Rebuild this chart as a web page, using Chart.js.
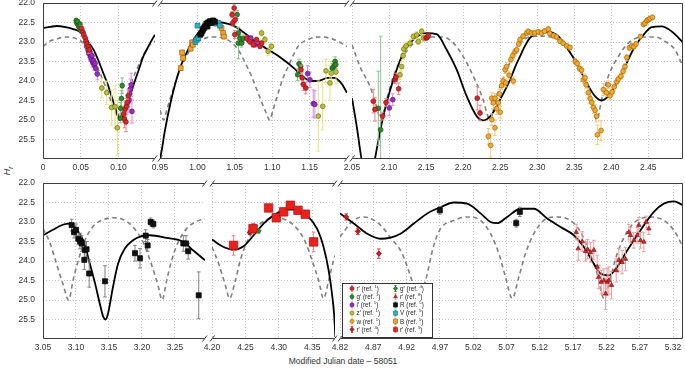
<!DOCTYPE html>
<html>
<head>
<meta charset="utf-8">
<script src="https://cdn.jsdelivr.net/npm/chart.js@4.4.0/dist/chart.umd.min.js"></script>
<style>
  body { margin: 0; width: 685px; height: 370px; position: relative; overflow: hidden; background: #fff;
         font-family: "Liberation Sans", Arial, sans-serif; }
  canvas { position: absolute; }
  #ytitle { position: absolute; left: -4px; top: 165px; width: 22px; height: 12px; line-height: 12px;
            text-align: center; transform: rotate(-90deg); font-size: 9px; font-style: italic; color: #333; }
  #ytitle sub { font-size: 6.5px; }
  #xtitle { position: absolute; left: 0; top: 356px; width: 686px; text-align: center; font-size: 8.5px; color: #333; }
</style>
</head>
<body>
<div id="ytitle">H<sub>r</sub></div>
<div id="xtitle">Modified Julian date – 58051</div>
<script>
// ---- axis ticks ----
var yTicks = [22.0, 22.5, 23.0, 23.5, 24.0, 24.5, 25.0, 25.5];
var t1Ticks = [0, 0.05, 0.10];             var t1Labels = ["0", "0.05", "0.10"];
var t2Ticks = [0.95, 1.00, 1.05, 1.10, 1.15]; var t2Labels = ["0.95", "1.00", "1.05", "1.10", "1.15"];
var t3Ticks = [2.05, 2.10, 2.15, 2.20, 2.25, 2.30, 2.35, 2.40, 2.45];
var t3Labels = ["2.05", "2.10", "2.15", "2.20", "2.25", "2.30", "2.35", "2.40", "2.45"];
var b1Ticks = [3.05, 3.10, 3.15, 3.20, 3.25]; var b1Labels = ["3.05", "3.10", "3.15", "3.20", "3.25"];
var b2Ticks = [4.20, 4.25, 4.30, 4.35];       var b2Labels = ["4.20", "4.25", "4.30", "4.35"];
var b3Ticks = [4.82, 4.87, 4.92, 4.97, 5.02, 5.07, 5.12, 5.17, 5.22, 5.27, 5.32];
var b3Labels = ["4.82", "4.87", "4.92", "4.97", "5.02", "5.07", "5.12", "5.17", "5.22", "5.27", "5.32"];

// ---- model curves [x, H] ----
var t1Solid = [[0,22.64],[0.01,22.61],[0.018,22.59],[0.03,22.62],[0.04,22.67],[0.047,22.72],[0.053,22.81],[0.06,23.0],[0.067,23.2],[0.074,23.5],[0.08,23.8],[0.086,24.1],[0.091,24.4],[0.095,24.65],[0.098,24.82],[0.1,24.93],[0.102,25.0],[0.105,24.92],[0.109,24.75],[0.115,24.4],[0.12,24.1],[0.124,23.88],[0.128,23.65],[0.133,23.37],[0.138,23.18],[0.142,23.03],[0.1485,22.81]];
var t1Dashed = [[0,23.11],[0.01,22.97],[0.018,22.92],[0.031,22.87],[0.0447,22.92],[0.0535,23.03],[0.0595,23.2],[0.068,23.5],[0.0774,23.88],[0.086,24.3],[0.095,24.74],[0.102,25.0],[0.106,24.75],[0.113,24.31],[0.12,23.9],[0.126,23.63],[0.133,23.35],[0.14,23.11],[0.1485,22.98]];
var t2Solid = [[0.95,26.0],[0.953,25.7],[0.956,25.33],[0.965,24.48],[0.976,23.71],[0.9875,23.2],[1.001,22.77],[1.014,22.58],[1.025,22.5],[1.032,22.5],[1.04,22.53],[1.05,22.6],[1.063,22.77],[1.077,22.98],[1.095,23.2],[1.112,23.41],[1.129,23.67],[1.143,23.92],[1.152,24.0],[1.161,24.0],[1.174,23.92],[1.183,23.92],[1.192,24.05],[1.2,24.3]];
var t2Dashed = [[0.95,24.75],[0.955,25.0],[0.959,24.75],[0.966,24.31],[0.973,23.9],[0.979,23.63],[0.986,23.35],[0.993,23.11],[1.005,22.95],[1.015,22.88],[1.025,22.87],[1.035,22.9],[1.045,23.0],[1.0545,23.2],[1.063,23.5],[1.0724,23.88],[1.081,24.3],[1.0902,24.74],[1.097,25.0],[1.101,24.75],[1.108,24.31],[1.115,23.9],[1.1214,23.63],[1.128,23.35],[1.1348,23.11],[1.1527,22.9],[1.166,22.87],[1.18,22.92],[1.19,23.0],[1.2,23.12]];
var t3Solid = [[2.05,24.44],[2.0567,25.2],[2.062,25.9],[2.068,26.5],[2.074,26.6],[2.078,26.35],[2.081,26.0],[2.0923,24.9],[2.1058,23.97],[2.1193,23.28],[2.1328,22.94],[2.1508,22.77],[2.1643,22.8],[2.1778,23.2],[2.1913,23.71],[2.2048,24.39],[2.2183,24.9],[2.2272,25.01],[2.2386,24.86],[2.2498,24.48],[2.2633,23.97],[2.27,23.65],[2.2768,23.37],[2.2835,23.1],[2.29,22.9],[2.297,22.8],[2.305,22.75],[2.315,22.74],[2.3285,22.85],[2.342,23.2],[2.3555,23.63],[2.3668,24.05],[2.378,24.39],[2.387,24.5],[2.396,24.39],[2.405,24.14],[2.4185,23.63],[2.432,23.11],[2.4455,22.77],[2.4546,22.62],[2.468,22.6],[2.4816,22.73],[2.4968,23.01]];
var t3Dashed = [[2.05,23.07],[2.0608,23.63],[2.0743,24.14],[2.0833,24.67],[2.089,25.0],[2.0968,24.48],[2.1058,23.88],[2.119,23.37],[2.137,22.98],[2.155,22.87],[2.173,22.87],[2.187,23.03],[2.2,23.37],[2.2138,23.88],[2.227,24.48],[2.232,24.82],[2.236,25.0],[2.2453,24.39],[2.2588,23.71],[2.2723,23.2],[2.2835,22.92],[2.3015,22.85],[2.324,22.9],[2.3375,23.11],[2.351,23.45],[2.3645,23.97],[2.3736,24.48],[2.378,24.86],[2.3803,25.0],[2.387,24.48],[2.396,23.88],[2.4095,23.37],[2.423,23.03],[2.441,22.87],[2.459,22.87],[2.4725,22.98],[2.486,23.2],[2.4968,23.63]];
var b1Solid = [[3.05,23.34],[3.065,23.2],[3.08,23.07],[3.09,23.04],[3.1,23.17],[3.111,23.47],[3.121,24.07],[3.129,24.58],[3.136,25.09],[3.1415,25.44],[3.145,25.5],[3.1485,25.35],[3.156,24.67],[3.1637,24.07],[3.174,23.68],[3.1864,23.47],[3.1992,23.36],[3.212,23.34],[3.2374,23.41],[3.2626,23.51],[3.2778,23.73],[3.2955,23.98]];
var b1Dashed = [[3.05,23.17],[3.06,23.51],[3.0705,24.07],[3.08,24.58],[3.089,25.0],[3.0955,24.5],[3.1035,23.98],[3.1136,23.47],[3.126,23.11],[3.1415,22.94],[3.1567,22.89],[3.172,22.94],[3.1864,23.13],[3.2015,23.51],[3.214,24.07],[3.2243,24.62],[3.2306,25.0],[3.2374,24.5],[3.245,23.98],[3.255,23.51],[3.2677,23.17],[3.283,22.98],[3.2955,22.92]];
var b2Solid = [[4.2,23.45],[4.2174,23.64],[4.2323,23.71],[4.2473,23.62],[4.2623,23.34],[4.2772,23.04],[4.2922,22.83],[4.3123,22.68],[4.327,22.68],[4.3422,22.83],[4.3572,23.17],[4.367,23.64],[4.3746,24.24],[4.3796,24.84],[4.3831,25.44],[4.3846,25.95]];
var b2Dashed = [[4.2,23.64],[4.21,24.07],[4.22,24.62],[4.2263,24.96],[4.235,24.5],[4.2424,23.98],[4.2524,23.51],[4.2648,23.17],[4.2798,22.96],[4.2973,22.89],[4.3123,22.96],[4.3272,23.17],[4.3397,23.51],[4.3497,23.98],[4.3596,24.5],[4.367,24.96],[4.3746,24.5],[4.382,23.98],[4.3846,23.85]];
var b3Solid = [[4.82,22.78],[4.8407,23.04],[4.8608,23.3],[4.8808,23.43],[4.8958,23.4],[4.9108,23.3],[4.9308,23.04],[4.951,22.78],[4.971,22.62],[4.9909,22.5],[5.011,22.53],[5.031,22.78],[5.046,23.0],[5.056,23.03],[5.071,22.87],[5.091,22.66],[5.111,22.66],[5.1311,22.91],[5.1511,23.13],[5.1711,23.34],[5.1861,23.64],[5.2011,24.07],[5.2111,24.32],[5.2236,24.37],[5.2362,24.15],[5.2512,23.73],[5.2712,23.21],[5.2912,22.74],[5.3062,22.53],[5.3212,22.47],[5.335,22.57]];
var b3Dashed = [[4.82,23.38],[4.84,22.96],[4.8557,22.87],[4.8808,23.08],[4.8958,23.4],[4.913,23.8],[4.928,24.5],[4.937,25.0],[4.9484,24.5],[4.9608,23.6],[4.971,23.17],[4.9909,22.96],[5.011,22.87],[5.031,22.96],[5.046,23.3],[5.0585,23.81],[5.0685,24.41],[5.0786,24.96],[5.0885,24.41],[5.0985,23.81],[5.111,23.3],[5.126,22.96],[5.1461,22.87],[5.166,22.96],[5.181,23.25],[5.1936,23.73],[5.2062,24.32],[5.2161,24.96],[5.2262,24.41],[5.2362,23.81],[5.2512,23.25],[5.2662,22.96],[5.2862,22.87],[5.3062,22.96],[5.3212,23.21],[5.335,23.64]];

// ---- photometry [x, H, error] ----
var t1_g1 = [[0.044,22.45,0.06],[0.045,22.52,0.06],[0.046,22.48,0.06],[0.047,22.58,0.06],[0.048,22.62,0.07],[0.049,22.55,0.06],[0.05,22.7,0.07],[0.1025,24.95,0.12],[0.103,24.7,0.15],[0.104,24.45,0.2],[0.105,24.12,0.2]];
var t1_r1 = [[0.051,22.65,0.06],[0.053,22.75,0.07],[0.054,22.82,0.07],[0.056,22.9,0.08],[0.057,22.98,0.08],[0.058,23.05,0.08],[0.06,23.12,0.08],[0.061,23.2,0.09],[0.107,24.85,0.2],[0.108,24.98,0.22],[0.109,24.72,0.2],[0.11,25.05,0.25],[0.111,24.65,0.2],[0.112,24.55,0.18],[0.113,24.38,0.15]];
var t1_i1 = [[0.058,23.12,0.08],[0.06,23.22,0.1],[0.061,23.3,0.1],[0.062,23.25,0.1],[0.063,23.38,0.1],[0.064,23.45,0.12],[0.065,23.35,0.1],[0.066,23.52,0.12],[0.067,23.48,0.12],[0.068,23.6,0.12],[0.069,23.55,0.12],[0.07,23.68,0.14],[0.072,23.82,0.15],[0.114,24.5,0.3],[0.115,24.32,0.25],[0.116,24.2,0.25],[0.117,24.1,0.3],[0.118,24.78,0.3]];
var t1_z1 = [[0.078,24.18,0.25],[0.0845,24.3,0.3],[0.091,24.68,0.45],[0.0955,24.66,0.55],[0.0986,25.2,0.7]];

var t2_B5 = [[0.9777,23.67,0.06],[0.9795,23.27,0.06],[0.9808,23.41,0.06],[0.991,23.17,0.06],[0.9929,23.01,0.06],[0.994,23.07,0.06],[1.0322,22.64,0.06],[1.0344,22.77,0.06],[1.0355,22.86,0.06]];
var t2_V5 = [[0.9974,23.0,0.06],[0.9987,22.94,0.06],[1.0001,22.58,0.05],[1.0014,22.9,0.06],[1.0255,22.53,0.05],[1.0277,22.51,0.05],[1.03,22.58,0.05]];
var t2_R5 = [[1.004,22.81,0.06],[1.0054,22.77,0.06],[1.0069,22.71,0.06],[1.0076,22.67,0.06],[1.009,22.64,0.06],[1.0099,22.6,0.06],[1.012,22.53,0.06],[1.0135,22.6,0.06],[1.0143,22.5,0.06],[1.0166,22.47,0.06],[1.0188,22.51,0.06],[1.021,22.45,0.06],[1.0233,22.48,0.06]];
var t2_r1 = [[1.0464,22.3,0.08],[1.0473,22.51,0.08],[1.0491,22.13,0.1],[1.05,22.81,0.1],[1.0505,22.43,0.08],[1.0657,22.9,0.06],[1.07,22.99,0.06],[1.0746,23.07,0.06],[1.079,22.94,0.06],[1.0836,23.11,0.06],[1.0858,23.03,0.06],[1.1385,23.71,0.12],[1.14,23.92,0.15],[1.1416,24.09,0.15],[1.145,24.18,0.15]];
var t2_g1 = [[1.0531,22.3,0.1],[1.0545,22.77,0.15],[1.0548,23.03,0.4],[1.0568,22.9,0.15],[1.059,23.03,0.1],[1.0612,22.92,0.1],[1.134,23.84,0.15],[1.1358,23.56,0.12],[1.138,23.62,0.12],[1.1804,23.67,0.12],[1.1826,23.62,0.12],[1.184,23.5,0.12],[1.185,23.58,0.1]];
var t2_i1 = [[1.0679,22.94,0.06],[1.0714,22.9,0.06],[1.0723,23.0,0.06],[1.0768,23.07,0.06],[1.0813,23.03,0.06],[1.1474,23.81,0.2],[1.1505,23.97,0.2],[1.1549,24.58,0.35],[1.157,24.6,0.35]];
var t2_z1 = [[1.0858,22.77,0.08],[1.0902,22.94,0.08],[1.0946,23.24,0.1],[1.099,23.11,0.1],[1.1616,24.9,0.9],[1.1675,24.65,0.6],[1.1719,23.74,0.3],[1.1772,24.05,0.45],[1.179,23.8,0.3],[1.1853,23.77,0.3]];

var t3_r1 = [[2.0788,24.52,0.3],[2.081,24.73,0.3],[2.0914,24.9,0.1],[2.0959,24.55,0.1],[2.108,23.97,0.1],[2.1095,23.9,0.1],[2.113,24.2,0.15],[2.1499,22.9,0.05],[2.1515,22.88,0.05],[2.153,22.84,0.05],[2.2191,24.44,0.3],[2.2228,24.82,0.2]];
var t3_g1 = [[2.0855,24.7,0.95],[2.0887,25.25,2.4]];
var t3_i1 = [[2.1003,24.69,0.2],[2.105,24.48,0.15]];
var t3_z1 = [[2.1148,23.84,0.12],[2.117,23.63,0.12],[2.119,23.35,0.1],[2.12,23.18,0.1],[2.123,23.1,0.1],[2.1283,23.03,0.1],[2.1328,22.86,0.08],[2.1373,22.82,0.08],[2.1396,22.99,0.08],[2.144,22.73,0.08],[2.1463,22.9,0.08]];
var t3_w1 = [[2.234,25.42,0.2],[2.2372,25.65,0.3],[2.2386,24.99,0.15],[2.2386,24.44,0.15],[2.2408,24.56,0.15],[2.243,25.2,0.2],[2.243,24.44,0.12],[2.2453,24.71,0.15],[2.2475,24.56,0.12],[2.2489,24.33,0.12],[2.25,24.8,0.15],[2.252,24.12,0.1],[2.254,24.0,0.1],[2.2566,23.71,0.1],[2.2575,24.05,0.1],[2.2588,23.63,0.1],[2.262,23.85,0.1],[2.2645,23.45,0.08],[2.267,23.35,0.08],[2.2678,24.0,0.1],[2.27,23.25,0.08],[2.2723,23.2,0.08],[2.275,23.05,0.06],[2.2768,22.94,0.06],[2.281,22.85,0.06],[2.2858,22.77,0.06],[2.288,22.73,0.06],[2.292,22.77,0.06],[2.2965,22.77,0.06],[2.3015,22.74,0.06],[2.306,22.77,0.06],[2.31,22.72,0.06],[2.315,22.67,0.06],[2.317,22.78,0.06],[2.322,22.84,0.06],[2.326,22.87,0.06],[2.3308,22.98,0.06],[2.335,23.03,0.06],[2.3398,23.1,0.06],[2.3443,23.14,0.06],[2.3513,23.5,0.08],[2.354,23.55,0.08],[2.357,23.68,0.08],[2.36,23.72,0.08],[2.3622,23.97,0.1],[2.3645,23.92,0.1],[2.366,24.1,0.1],[2.369,24.3,0.12],[2.3715,24.45,0.12],[2.3736,24.55,0.12],[2.376,24.68,0.15],[2.378,24.75,0.15],[2.3803,24.9,0.15],[2.3812,25.38,0.25],[2.3861,25.27,0.25],[2.3893,24.22,0.15],[2.3935,24.3,0.1],[2.396,24.1,0.1],[2.3983,24.38,0.1],[2.401,24.28,0.1],[2.404,24.15,0.1],[2.4075,24.02,0.08],[2.4095,23.95,0.08],[2.413,23.88,0.08],[2.416,23.75,0.08],[2.4185,23.63,0.08],[2.421,23.4,0.08],[2.4244,23.15,0.06],[2.4275,23.1,0.06],[2.4305,23.12,0.06],[2.4334,23.05,0.06],[2.4393,22.86,0.06],[2.4433,22.55,0.06],[2.4455,22.52,0.06],[2.448,22.45,0.06],[2.45,22.43,0.06],[2.4522,22.4,0.06],[2.4555,22.37,0.06]];

var b1_R5 = [[3.0934,23.08,0.15],[3.097,23.26,0.15],[3.1,23.2,0.15],[3.1035,23.43,0.15],[3.106,23.49,0.2],[3.1086,23.55,0.2],[3.1126,23.97,0.25],[3.1136,23.72,0.2],[3.116,23.7,0.2],[3.12,24.32,0.35],[3.1439,24.52,0.4],[3.1894,23.8,0.2],[3.197,23.93,0.25],[3.2056,23.35,0.15],[3.2086,23.6,0.15],[3.2131,23.0,0.1],[3.2172,23.05,0.1],[3.2626,23.55,0.2],[3.2667,23.55,0.2],[3.27,23.75,0.2],[3.286,24.88,0.6]];
var b2_r5 = [[4.2323,23.6,0.25],[4.2614,23.17,0.12],[4.2847,22.64,0.05],[4.2963,22.89,0.08],[4.3072,22.74,0.1],[4.3172,22.57,0.05],[4.3287,22.7,0.05],[4.3397,22.8,0.05],[4.3521,23.51,0.25]];
var b2_r4 = [[4.2563,23.27,0.05],[4.2623,23.1,0.05]];
var b2_g4 = [[4.2698,23.23,0.05],[4.316,22.55,0.04]];
var b3_r4 = [[4.8293,22.87,0.08],[4.8467,23.24,0.08],[4.8783,23.81,0.12]];
var b3_R5 = [[4.9699,22.7,0.1],[5.0846,23.03,0.1],[5.09,22.74,0.12]];
var b3_r8 = [[5.1747,23.26,0.2],[5.1777,23.68,0.3],[5.1837,23.5,0.25],[5.1887,23.75,0.25],[5.1917,23.7,0.25],[5.1962,23.78,0.25],[5.2011,23.72,0.25],[5.2062,24.15,0.3],[5.2086,24.41,0.3],[5.2122,24.54,0.3],[5.2161,24.5,0.3],[5.2187,24.84,0.4],[5.2212,24.54,0.35],[5.2237,24.5,0.35],[5.2277,24.62,0.35],[5.2347,24.24,0.3],[5.2387,23.98,0.3],[5.2437,24.03,0.3],[5.2487,23.95,0.3],[5.2537,23.26,0.2],[5.2562,23.34,0.2],[5.2612,23.47,0.2],[5.2662,23.34,0.2],[5.2687,23.08,0.2],[5.2712,23.47,0.2],[5.2762,23.51,0.25],[5.2797,23.0,0.15],[5.2837,23.17,0.15]];

// ---- legend ----
var legendKeys = ["r1", "g1", "i1", "z1", "w1", "r4", "g4", "r8", "R5", "V5", "B5", "r5"];
var legendBands = ["r\u2032", "g\u2032", "i\u2032", "z\u2032", "w", "r\u2032", "g\u2032", "r\u2032", "R", "V", "B", "r\u2032"];
var legendRefs = ["1", "1", "1", "1", "1", "4", "4", "8", "5", "5", "5", "5"];

var styles = {
  r1: { shape: "circle", r: 2.4, fill: "#d8262a", edge: "#8a1212", bar: "#ee8585" },
  g1: { shape: "circle", r: 2.4, fill: "#2b8a2b", edge: "#145214", bar: "#86c486" },
  i1: { shape: "circle", r: 2.4, fill: "#9b2cc0", edge: "#5e1175", bar: "#d98ae8" },
  z1: { shape: "circle", r: 2.4, fill: "#bcbc36", edge: "#6f6f18", bar: "#e6e678" },
  w1: { shape: "circle", r: 2.4, fill: "#f2a92e", edge: "#9b6510", bar: "#f7c870" },
  r4: { shape: "rectRot", r: 2.6, fill: "#c81e1e", edge: "#801010", bar: "#d84040" },
  g4: { shape: "rectRot", r: 2.6, fill: "#2b8a2b", edge: "#145214", bar: "#2b8a2b" },
  r8: { shape: "triangle", r: 2.6, fill: "#d42a2a", edge: "#8a1010", bar: "#f29c9c" },
  R5: { shape: "rect", r: 3.6, fill: "#111111", edge: "#000000", bar: "#808080" },
  V5: { shape: "rect", r: 3.4, fill: "#2fb2c2", edge: "#1a7080", bar: "#2fb2c2" },
  B5: { shape: "rect", r: 3.4, fill: "#f2a530", edge: "#a06010", bar: "#f2a530" },
  r5: { shape: "rect", r: 6.0, fill: "#e8211d", edge: "#b01010", bar: "#f08080" }
};

var panels = [
  { box: [43, 3, 155, 159], xr: [0, 0.1485], ticks: t1Ticks, labels: t1Labels, yLabels: true, edgeL: true, edgeR: false,
    solid: t1Solid, dashed: t1Dashed, pts: { r1: t1_r1, g1: t1_g1, i1: t1_i1, z1: t1_z1 } },
  { box: [160, 3, 347, 159], xr: [0.95, 1.2], ticks: t2Ticks, labels: t2Labels, yLabels: false, edgeL: false, edgeR: false,
    solid: t2Solid, dashed: t2Dashed, pts: { r1: t2_r1, g1: t2_g1, i1: t2_i1, z1: t2_z1, R5: t2_R5, V5: t2_V5, B5: t2_B5 } },
  { box: [352, 3, 683, 159], xr: [2.05, 2.4968], ticks: t3Ticks, labels: t3Labels, yLabels: false, edgeL: false, edgeR: true,
    solid: t3Solid, dashed: t3Dashed, pts: { r1: t3_r1, g1: t3_g1, i1: t3_i1, z1: t3_z1, w1: t3_w1 } },
  { box: [43, 183, 205, 339], xr: [3.05, 3.2955], ticks: b1Ticks, labels: b1Labels, yLabels: true, edgeL: true, edgeR: false,
    solid: b1Solid, dashed: b1Dashed, pts: { R5: b1_R5 } },
  { box: [212, 183, 335, 339], xr: [4.2, 4.3841], ticks: b2Ticks, labels: b2Labels, yLabels: false, edgeL: false, edgeR: false,
    solid: b2Solid, dashed: b2Dashed, pts: { r5: b2_r5, r4: b2_r4, g4: b2_g4 } },
  { box: [340, 183, 683, 339], xr: [4.82, 5.335], ticks: b3Ticks, labels: b3Labels, yLabels: false, edgeL: false, edgeR: true,
    solid: b3Solid, dashed: b3Dashed, pts: { r4: b3_r4, R5: b3_R5, r8: b3_r8 }, legend: true }
];

var tickFont = { family: "'Liberation Sans', Arial, sans-serif", size: 8.5 };

// error bars drawn right before each series' markers
var errorBars = {
  id: "errorBars",
  beforeDatasetDraw: function (chart, args) {
    var ds = chart.data.datasets[args.index];
    if (!ds.errs) return;
    var ctx = chart.ctx, a = chart.chartArea, xs = chart.scales.x, ys = chart.scales.y;
    ctx.save();
    ctx.beginPath(); ctx.rect(a.left, a.top, a.right - a.left, a.bottom - a.top); ctx.clip();
    ctx.strokeStyle = ds.barColor; ctx.lineWidth = 1;
    ctx.beginPath();
    ds.data.forEach(function (p, i) {
      var px = xs.getPixelForValue(p.x);
      var y1 = ys.getPixelForValue(p.y - ds.errs[i]), y2 = ys.getPixelForValue(p.y + ds.errs[i]);
      ctx.moveTo(px, y1); ctx.lineTo(px, y2);
      ctx.moveTo(px - 1.8, y1); ctx.lineTo(px + 1.8, y1);
      ctx.moveTo(px - 1.8, y2); ctx.lineTo(px + 1.8, y2);
    });
    ctx.stroke();
    ctx.restore();
  }
};

// frame with broken-axis marks
function framePlugin(p) {
  return {
    id: "frame",
    afterDatasetsDraw: function (chart) {
      var ctx = chart.ctx, a = chart.chartArea;
      var L = Math.round(a.left) + 0.5, R = Math.round(a.right) - 0.5, T = Math.round(a.top) + 0.5, B = Math.round(a.bottom) - 0.5;
      ctx.save();
      ctx.strokeStyle = "#3c3c3c"; ctx.lineWidth = 1;
      ctx.beginPath();
      ctx.moveTo(L, T); ctx.lineTo(R, T);
      ctx.moveTo(L, B); ctx.lineTo(R, B);
      if (p.edgeL) { ctx.moveTo(L, T); ctx.lineTo(L, B); }
      if (p.edgeR) { ctx.moveTo(R, T); ctx.lineTo(R, B); }
      ctx.stroke();
      ctx.beginPath();
      [T, B].forEach(function (y) {
        if (!p.edgeL) { ctx.moveTo(L - 2.5, y + 3); ctx.lineTo(L + 2, y - 3); }
        if (!p.edgeR) { ctx.moveTo(R - 2, y + 3); ctx.lineTo(R + 2.5, y - 3); }
      });
      ctx.stroke();
      ctx.restore();
    }
  };
}

function legendPlugin(offX, offY) {
  return {
    id: "legendBox",
    afterDraw: function (chart) {
      var ctx = chart.ctx;
      var bx = 342 - offX, by = 283 - offY, bw = 90, bh = 54;
      ctx.save();
      ctx.fillStyle = "#fff"; ctx.fillRect(bx, by, bw, bh);
      ctx.strokeStyle = "#333"; ctx.lineWidth = 1;
      ctx.strokeRect(bx + 0.5, by + 0.5, bw, bh);
      legendKeys.forEach(function (k, i) {
        var st = styles[k];
        var col = Math.floor(i / 6), row = i % 6;
        var mx = bx + 10 + col * 43.5, my = by + 5.5 + row * 8.2;
        ctx.strokeStyle = st.bar; ctx.lineWidth = 0.9;
        ctx.beginPath(); ctx.moveTo(mx, my - 3); ctx.lineTo(mx, my + 3);
        ctx.moveTo(mx - 1.2, my - 3); ctx.lineTo(mx + 1.2, my - 3);
        ctx.moveTo(mx - 1.2, my + 3); ctx.lineTo(mx + 1.2, my + 3); ctx.stroke();
        ctx.fillStyle = st.fill; ctx.strokeStyle = st.edge; ctx.lineWidth = 0.6;
        Chart.helpers.drawPoint(ctx, { pointStyle: st.shape, radius: Math.min(st.r, 3.4) * 0.85, rotation: 0, borderWidth: 0.6 }, mx, my);
        ctx.fillStyle = "#222"; ctx.textBaseline = "middle"; ctx.textAlign = "left";
        ctx.font = "6.3px 'Liberation Sans', Arial, sans-serif";
        var tx = mx + 4.5, s1 = legendBands[i] + " (ref. ";
        ctx.fillText(s1, tx, my + 0.5);
        tx += ctx.measureText(s1).width;
        ctx.font = "4.3px 'Liberation Sans', Arial, sans-serif";
        ctx.fillText(legendRefs[i], tx, my - 1.8);
        tx += ctx.measureText(legendRefs[i]).width;
        ctx.font = "6.3px 'Liberation Sans', Arial, sans-serif";
        ctx.fillText(")", tx, my + 0.5);
      });
      ctx.restore();
    }
  };
}

function toXY(arr) { return arr.map(function (p) { return { x: p[0], y: p[1] }; }); }

function makePanel(p) {
  var padL = p.yLabels ? 43 : 14, padR = 14, padT = 14, padB = 22;
  var w = p.box[2] - p.box[0] + padL + padR, h = p.box[3] - p.box[1] + padT + padB;
  var c = document.createElement("canvas");
  c.width = w; c.height = h;
  c.style.left = (p.box[0] - padL) + "px"; c.style.top = (p.box[1] - padT) + "px";
  c.style.width = w + "px"; c.style.height = h + "px";
  document.body.appendChild(c);

  var datasets = [
    { data: toXY(p.dashed), showLine: true, borderColor: "#808080", borderWidth: 1.6, borderDash: [4.5, 3.5],
      pointRadius: 0, cubicInterpolationMode: "monotone", order: 100 },
    { data: toXY(p.solid), showLine: true, borderColor: "#000", borderWidth: 1.8,
      pointRadius: 0, cubicInterpolationMode: "monotone", order: 90 }
  ];
  Object.keys(p.pts).forEach(function (k) {
    var st = styles[k], arr = p.pts[k];
    datasets.push({
      data: toXY(arr), errs: arr.map(function (q) { return q[2]; }), barColor: st.bar,
      showLine: false, pointStyle: st.shape, pointRadius: st.r, backgroundColor: st.fill,
      borderColor: st.edge, borderWidth: 0.7, order: k === "r5" ? 2 : 5
    });
  });

  var plugins = [errorBars, framePlugin(p)];
  if (p.legend) plugins.push(legendPlugin(p.box[0] - padL, p.box[1] - padT));

  new Chart(c, {
    type: "scatter",
    data: { datasets: datasets },
    plugins: plugins,
    options: {
      responsive: false, animation: false, devicePixelRatio: 1, events: [],
      layout: { padding: { left: p.yLabels ? 0 : padL, right: padR, top: padT, bottom: 0 } },
      plugins: { legend: { display: false }, tooltip: { enabled: false } },
      scales: {
        x: {
          type: "linear", min: p.xr[0], max: p.xr[1],
          afterBuildTicks: function (s) { s.ticks = p.ticks.map(function (v) { return { value: v }; }); },
          afterFit: function (s) { s.height = padB; },
          ticks: { autoSkip: false, maxRotation: 0, padding: 4, color: "#333", font: tickFont,
                   callback: function (v, i) { return p.labels[i]; } },
          grid: { color: "#b4b4b4", lineWidth: 0.8, drawTicks: false },
          border: { display: false, dash: [1, 2] }
        },
        y: {
          type: "linear", reverse: true, min: 22, max: 26,
          afterBuildTicks: function (s) { s.ticks = yTicks.map(function (v) { return { value: v }; }); },
          afterFit: function (s) { s.width = p.yLabels ? padL : 0; },
          ticks: { display: p.yLabels, padding: 8, color: "#333", font: tickFont,
                   callback: function (v) { return v.toFixed(1); } },
          grid: { color: "#b4b4b4", lineWidth: 0.8, drawTicks: false },
          border: { display: false, dash: [1, 2] }
        }
      }
    }
  });
}

panels.forEach(makePanel);
</script>
</body>
</html>
